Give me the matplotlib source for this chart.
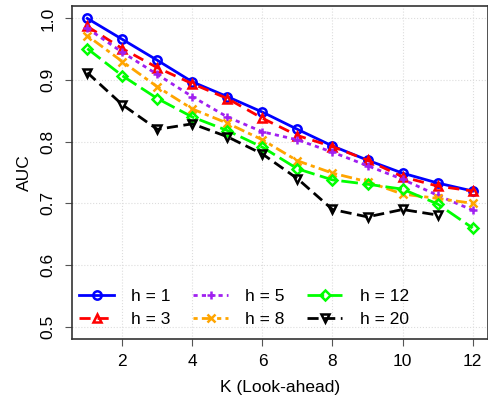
import numpy as np
import matplotlib
matplotlib.use("Agg")
import matplotlib.pyplot as plt

K = np.arange(1, 13)
auc_h1 = [1.000, 0.966, 0.932, 0.897, 0.873, 0.848, 0.820, 0.793, 0.770, 0.749, 0.733, 0.720]
auc_h3 = [0.987, 0.951, 0.920, 0.894, 0.870, 0.838, 0.810, 0.792, 0.770, 0.743, 0.728, 0.720]
auc_h5 = [0.984, 0.945, 0.909, 0.873, 0.840, 0.816, 0.803, 0.783, 0.761, 0.739, 0.713, 0.689]
auc_h8 = [0.972, 0.930, 0.889, 0.853, 0.830, 0.803, 0.769, 0.749, 0.735, 0.715, 0.708, 0.700]
auc_h12 = [0.951, 0.907, 0.870, 0.840, 0.818, 0.791, 0.756, 0.738, 0.731, 0.723, 0.699, 0.660]
auc_h20 = [0.912, 0.860, 0.820, 0.829, 0.808, 0.780, 0.740, 0.690, 0.678, 0.690, 0.681, np.nan]

series = [
    ("h = 1", auc_h1, "#0000FF", "-", "o"),
    ("h = 3", auc_h3, "#FF0000", (0, (4, 2.5)), "^"),
    ("h = 5", auc_h5, "#A020F0", (0, (1.5, 1.5)), "+"),
    ("h = 8", auc_h8, "#FFA500", (0, (1.5, 1.5, 4, 1.5)), "x"),
    ("h = 12", auc_h12, "#00FF00", (0, (6, 2)), "D"),
    ("h = 20", auc_h20, "black", (0, (4, 2)), "v"),
]

plt.rcParams["font.family"] = ["Liberation Sans", "DejaVu Sans"]
fig = plt.figure(figsize=(4.89, 4.04), dpi=100)
ax = fig.add_axes([0.147, 0.161, 0.851, 0.824])

for label, vals, color, ls, mk in series:
    ms = 6 if mk != "D" else 5
    ax.plot(K, vals, color=color, linestyle=ls, linewidth=2, marker=mk,
            markersize=ms, markerfacecolor="none", markeredgewidth=1.8, label=label)

ax.set_xlim(0.56, 12.44)
ax.set_ylim(0.48, 1.02)
ax.set_xticks([2, 4, 6, 8, 10, 12])
ax.set_yticks([0.5, 0.6, 0.7, 0.8, 0.9, 1.0])
ax.set_yticklabels(["0.5", "0.6", "0.7", "0.8", "0.9", "1.0"], rotation=90, va="center")
ax.tick_params(labelsize=12.5, length=5, color="#555555", direction="out")
ax.tick_params(axis="y", pad=7)
ax.tick_params(axis="x", pad=6)
ax.grid(True, color="#dddddd", linestyle=":", linewidth=0.8)
for s in ax.spines.values():
    s.set_color("#333333")
    s.set_linewidth(1.2)

ax.set_xlabel("K (Look-ahead)", fontsize=12.5, labelpad=8)
ax.set_ylabel("AUC", fontsize=12.5, labelpad=6)

ax.legend(loc="lower left", ncol=3, frameon=False, fontsize=12.5,
          handlelength=2.0, columnspacing=1.3, handletextpad=1.0,
          labelspacing=0.45, bbox_to_anchor=(-0.02, -0.01))

fig.savefig("out.png", dpi=100)
